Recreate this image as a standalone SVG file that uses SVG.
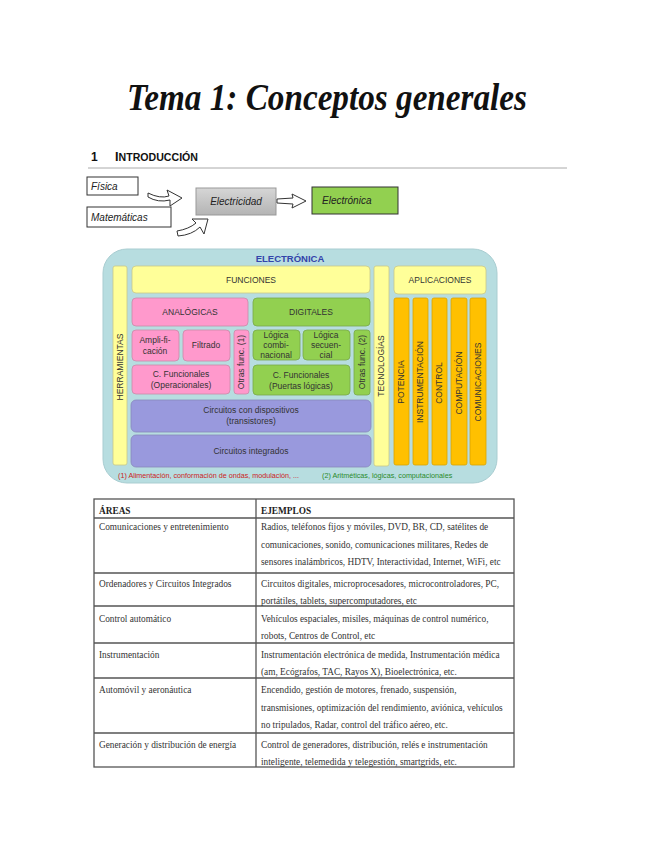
<svg xmlns="http://www.w3.org/2000/svg" width="655" height="848" viewBox="0 0 655 848">
<defs>
<linearGradient id="grayg" x1="0" y1="0" x2="0" y2="1"><stop offset="0" stop-color="#d6d6d6"/><stop offset="1" stop-color="#b4b4b4"/></linearGradient>
</defs>
<style>
.hand{font-family:"Liberation Sans","DejaVu Sans",sans-serif;font-style:italic;font-size:10px;fill:#222}
.box{fill:#fff;stroke:#333;stroke-width:1}
.arr{fill:#fff;stroke:#333;stroke-width:1}
.e{font-family:"Liberation Sans",Arial,sans-serif;font-size:8.5px;fill:#333;text-anchor:middle}
.yel{fill:#ffff99;stroke:#c8c88a;stroke-width:0.8}
.pink{fill:#ff99cc;stroke:#c98aa8;stroke-width:0.8}
.grn{fill:#92d050;stroke:#7aa84a;stroke-width:0.8}
.pur{fill:#9999dd;stroke:#8888bb;stroke-width:0.8}
.org{fill:#ffc000;stroke:#d9a300;stroke-width:0.8}
.t{font-family:"Liberation Serif","Times New Roman",serif;font-size:9.3px;fill:#333}
.tb{font-family:"Liberation Serif","Times New Roman",serif;font-size:9.3px;font-weight:bold;fill:#222}
.tl{stroke:#555;stroke-width:1.3;fill:none}
</style>
<rect width="655" height="848" fill="#fff"/>
<g id="title">
<text x="327" y="110" text-anchor="middle" font-family="'Liberation Serif',serif" font-style="italic" font-weight="bold" font-size="38" textLength="400" lengthAdjust="spacingAndGlyphs" fill="#111">Tema 1: Conceptos generales</text>
</g>
<g id="heading">
<text x="91" y="161" font-family="'Liberation Sans',sans-serif" font-weight="bold" font-size="12" fill="#111">1</text>
<text x="115" y="161" font-family="'Liberation Sans Narrow','Liberation Sans',sans-serif" font-weight="bold" fill="#111" textLength="83" lengthAdjust="spacingAndGlyphs"><tspan font-size="12">I</tspan><tspan font-size="10">NTRODUCCIÓN</tspan></text>
<line x1="88" y1="168" x2="567" y2="168" stroke="#aaa" stroke-width="1"/>
</g>
<g id="fisica"><rect class="box" x="87" y="177" width="51" height="18"/><text class="hand" x="91" y="190">Física</text></g>
<g id="matematicas"><rect class="box" x="87" y="207" width="84" height="20"/><text class="hand" x="91" y="221">Matemáticas</text></g>
<g id="electricidad"><rect x="196" y="188" width="80" height="27" fill="url(#grayg)" stroke="#999" stroke-width="1"/><text class="hand" x="236" y="205" text-anchor="middle">Electricidad</text></g>
<g id="electronica"><rect x="312" y="187" width="86" height="27" fill="#92d050" stroke="#333" stroke-width="1"/><text class="hand" x="322" y="204">Electrónica</text></g>
<g id="connectors">
<path class="arr" d="M148,193 Q160,199 169,196 L167,190 L182,198 L170,206 L170,200 Q158,203 148,197 Z"/>
<path class="arr" d="M177,231 Q189,229 196,223 L192,219 L208,219 L204,234 L200,227 Q192,235 178,236 Z"/>
<path class="arr" d="M277,199 L293,198 L292,194 L306,201 L292,208 L293,204 L277,203 Z"/>
</g>
<g id="electronica-diagram">
<rect x="103" y="249" width="394" height="234" rx="24" fill="#b7dde0" stroke="#a9cdd1" stroke-width="1"/>
<text x="290" y="262" text-anchor="middle" font-family="'Liberation Sans',sans-serif" font-weight="bold" font-size="9.5" fill="#3344aa">ELECTRÓNICA</text>
<g id="herramientas"><rect class="yel" x="113" y="266" width="14" height="199" rx="2"/><text class="e" transform="translate(123,367) rotate(-90)">HERRAMIENTAS</text></g>
<g id="funciones"><rect class="yel" x="132" y="266" width="238" height="27" rx="4"/><text class="e" x="251" y="283">FUNCIONES</text></g>
<g id="analogicas"><rect class="pink" x="132" y="298" width="116" height="28" rx="4"/><text class="e" x="190" y="315">ANALÓGICAS</text></g>
<g id="digitales"><rect class="grn" x="253" y="298" width="117" height="28" rx="4"/><text class="e" x="311" y="315">DIGITALES</text></g>
<g id="amplificacion"><rect class="pink" x="132" y="330" width="47" height="31" rx="4"/><text class="e" x="155" y="343">Ampli-fi-</text><text class="e" x="155" y="354">cación</text></g>
<g id="filtrado"><rect class="pink" x="183" y="330" width="47" height="31" rx="4"/><text class="e" x="206" y="348">Filtrado</text></g>
<g id="otras1"><rect class="pink" x="234" y="330" width="15" height="64" rx="3"/><text class="e" transform="translate(244,362) rotate(-90)">Otras func. (1)</text></g>
<g id="cfunc-op"><rect class="pink" x="132" y="365" width="98" height="29" rx="4"/><text class="e" x="181" y="377">C. Funcionales</text><text class="e" x="181" y="388">(Operacionales)</text></g>
<g id="logica-comb"><rect class="grn" x="253" y="330" width="47" height="30" rx="4"/><text class="e" x="276" y="338">Lógica</text><text class="e" x="276" y="348">combi-</text><text class="e" x="276" y="358">nacional</text></g>
<g id="logica-sec"><rect class="grn" x="303" y="330" width="47" height="30" rx="4"/><text class="e" x="326" y="338">Lógica</text><text class="e" x="326" y="348">secuen-</text><text class="e" x="326" y="358">cial</text></g>
<g id="cfunc-pl"><rect class="grn" x="253" y="365" width="97" height="30" rx="4"/><text class="e" x="301" y="378">C. Funcionales</text><text class="e" x="301" y="389">(Puertas lógicas)</text></g>
<g id="otras2"><rect class="grn" x="354" y="330" width="16" height="65" rx="3"/><text class="e" transform="translate(365,362) rotate(-90)">Otras func. (2)</text></g>
<g id="cir-disp"><rect class="pur" x="131" y="400" width="240" height="32" rx="5"/><text class="e" x="251" y="413">Circuitos con dispositivos</text><text class="e" x="251" y="424">(transistores)</text></g>
<g id="cir-int"><rect class="pur" x="131" y="435" width="240" height="32" rx="5"/><text class="e" x="251" y="454">Circuitos integrados</text></g>
<g id="tecnologias"><rect class="yel" x="374" y="266" width="15" height="200" rx="2"/><text class="e" transform="translate(384,366) rotate(-90)">TECNOLOGÍAS</text></g>
<g id="aplicaciones"><rect class="yel" x="394" y="266" width="92" height="28" rx="4"/><text class="e" x="440" y="283">APLICACIONES</text></g>
<g id="potencia"><rect class="org" x="394" y="298" width="15" height="167" rx="2"/><text class="e" transform="translate(404,382) rotate(-90)">POTENCIA</text></g>
<g id="instrumentacion"><rect class="org" x="413" y="298" width="15" height="167" rx="2"/><text class="e" transform="translate(423,382) rotate(-90)">INSTRUMENTACIÓN</text></g>
<g id="control"><rect class="org" x="432" y="298" width="15" height="167" rx="2"/><text class="e" transform="translate(442,383) rotate(-90)">CONTROL</text></g>
<g id="computacion"><rect class="org" x="451" y="298" width="16" height="167" rx="2"/><text class="e" transform="translate(462,383) rotate(-90)">COMPUTACIÓN</text></g>
<g id="comunicaciones"><rect class="org" x="470" y="298" width="16" height="167" rx="2"/><text class="e" transform="translate(481,382) rotate(-90)">COMUNICACIONES</text></g>
<text x="118" y="478" font-family="'Liberation Sans',sans-serif" font-size="7.2" fill="#cc2222">(1) Alimentación, conformación de ondas, modulación, ...</text>
<text x="322" y="478" font-family="'Liberation Sans',sans-serif" font-size="7.2" fill="#2a8a2a">(2) Aritméticas, lógicas, computacionales</text>
</g>
<g id="table">
<rect class="tl" x="94" y="499" width="420" height="268"/>
<line class="tl" x1="256" y1="499" x2="256" y2="767"/>
<line class="tl" x1="94" y1="518" x2="514" y2="518"/>
<line class="tl" x1="94" y1="573" x2="514" y2="573"/>
<line class="tl" x1="94" y1="606" x2="514" y2="606"/>
<line class="tl" x1="94" y1="643" x2="514" y2="643"/>
<line class="tl" x1="94" y1="678" x2="514" y2="678"/>
<line class="tl" x1="94" y1="733" x2="514" y2="733"/>
<text class="tb" x="99" y="514">ÁREAS</text>
<text class="tb" x="261" y="514">EJEMPLOS</text>
<text class="t" x="99" y="530">Comunicaciones y entretenimiento</text>
<text class="t" x="261" y="530">Radios, teléfonos fijos y móviles, DVD, BR, CD, satélites de</text>
<text class="t" x="261" y="548">comunicaciones, sonido, comunicaciones militares, Redes de</text>
<text class="t" x="261" y="565">sensores inalámbricos, HDTV, Interactividad, Internet, WiFi, etc</text>
<text class="t" x="99" y="587">Ordenadores y Circuitos Integrados</text>
<text class="t" x="261" y="587">Circuitos digitales, microprocesadores, microcontroladores, PC,</text>
<text class="t" x="261" y="604">portátiles, tablets, supercomputadores, etc</text>
<text class="t" x="99" y="622">Control automático</text>
<text class="t" x="261" y="622">Vehículos espaciales, misiles, máquinas de control numérico,</text>
<text class="t" x="261" y="639">robots, Centros de Control, etc</text>
<text class="t" x="99" y="658">Instrumentación</text>
<text class="t" x="261" y="658">Instrumentación electrónica de medida, Instrumentación médica</text>
<text class="t" x="261" y="675">(am, Ecógrafos, TAC, Rayos X), Bioelectrónica, etc.</text>
<text class="t" x="99" y="693">Automóvil y aeronáutica</text>
<text class="t" x="261" y="693">Encendido, gestión de motores, frenado, suspensión,</text>
<text class="t" x="261" y="711">transmisiones, optimización del rendimiento, aviónica, vehículos</text>
<text class="t" x="261" y="728">no tripulados, Radar, control del tráfico aéreo, etc.</text>
<text class="t" x="99" y="748">Generación y distribución de energía</text>
<text class="t" x="261" y="748">Control de generadores, distribución, relés e instrumentación</text>
<text class="t" x="261" y="765">inteligente, telemedida y telegestión, smartgrids, etc.</text>
</g>
</svg>
